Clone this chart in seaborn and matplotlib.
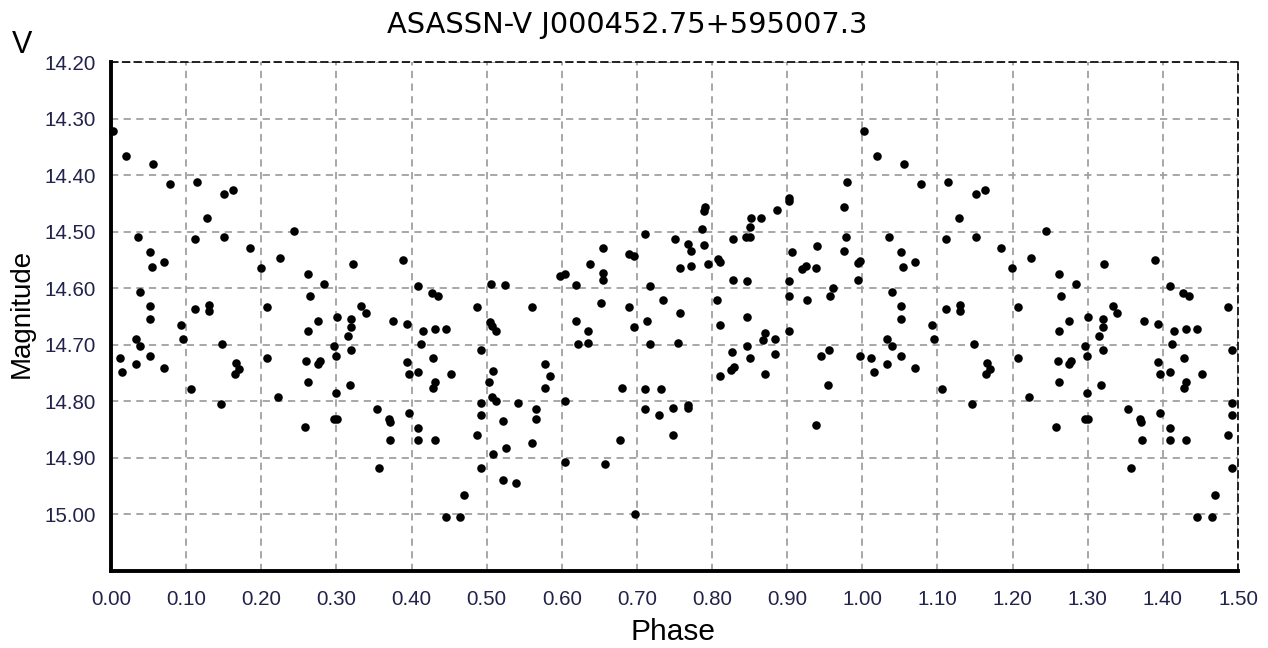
import numpy as np
import pandas as pd
import matplotlib
matplotlib.use("Agg")
import matplotlib.pyplot as plt
import seaborn as sns
from matplotlib.ticker import MultipleLocator, FormatStrFormatter

title = "ASASSN-V J000452.75+595007.3"
band_label = "V"
x_label = "Phase"
y_label = "Magnitude"

# Observed points, one cycle (phase 0..1); the chart shows phase 0..1.5
phase = [
    0.002, 0.020, 0.056, 0.078, 0.114, 0.151, 0.163, 0.128, 0.036, 0.112,
    0.151, 0.052, 0.054, 0.070, 0.039, 0.052, 0.052, 0.112, 0.130, 0.130,
    0.093, 0.096, 0.033, 0.039, 0.148, 0.012, 0.015, 0.033, 0.052, 0.070,
    0.166, 0.170, 0.165, 0.106, 0.146,
    0.244, 0.185, 0.199, 0.225, 0.262, 0.284, 0.265, 0.322, 0.207, 0.275,
    0.301, 0.320, 0.320, 0.315, 0.333, 0.262, 0.207, 0.260, 0.275, 0.278,
    0.297, 0.299, 0.320, 0.262, 0.299, 0.318, 0.222, 0.297, 0.301, 0.258,
    0.389, 0.409, 0.427, 0.435, 0.487, 0.339, 0.375, 0.394, 0.415, 0.431,
    0.446, 0.412, 0.492, 0.394, 0.428, 0.396, 0.409, 0.452, 0.431, 0.428,
    0.492, 0.492, 0.354, 0.370, 0.371, 0.396, 0.409, 0.372, 0.409, 0.431,
    0.487, 0.357, 0.492, 0.470, 0.446, 0.465,
    0.655, 0.637, 0.598, 0.604, 0.655, 0.655, 0.506, 0.524, 0.619, 0.560,
    0.652, 0.504, 0.507, 0.512, 0.619, 0.635, 0.622, 0.635, 0.578, 0.584,
    0.509, 0.503, 0.578, 0.507, 0.512, 0.542, 0.604, 0.565, 0.565, 0.522,
    0.560, 0.526, 0.509, 0.604, 0.657, 0.522, 0.539,
    0.789, 0.791, 0.786, 0.711, 0.751, 0.768, 0.772, 0.789, 0.828, 0.690,
    0.696, 0.757, 0.772, 0.795, 0.808, 0.811, 0.718, 0.828, 0.735, 0.807,
    0.690, 0.757, 0.714, 0.696, 0.811, 0.718, 0.754, 0.826, 0.811, 0.825,
    0.829, 0.680, 0.711, 0.732, 0.711, 0.730, 0.748, 0.768, 0.768, 0.748,
    0.677, 0.697,
    0.980, 0.903, 0.903, 0.976, 0.886, 0.865, 0.852, 0.851, 0.845, 0.851,
    0.978, 0.940, 0.907, 0.976, 0.920, 0.925, 0.938, 0.994, 0.997, 0.994,
    0.846, 0.902, 0.961, 0.902, 0.957, 0.927, 0.846, 0.902, 0.870, 0.868,
    0.884, 0.846, 0.850, 0.884, 0.945, 0.956, 0.997, 0.870, 0.954, 0.938,
]
magnitude = [
    14.322, 14.367, 14.381, 14.416, 14.412, 14.433, 14.426, 14.475, 14.509, 14.513,
    14.510, 14.536, 14.562, 14.553, 14.606, 14.631, 14.655, 14.637, 14.630, 14.641,
    14.665, 14.689, 14.689, 14.702, 14.699, 14.724, 14.748, 14.734, 14.720, 14.741,
    14.733, 14.742, 14.752, 14.779, 14.804,
    14.499, 14.529, 14.565, 14.547, 14.575, 14.592, 14.614, 14.558, 14.634, 14.658,
    14.651, 14.654, 14.669, 14.685, 14.631, 14.675, 14.724, 14.728, 14.734, 14.729,
    14.702, 14.720, 14.710, 14.765, 14.786, 14.772, 14.793, 14.831, 14.831, 14.845,
    14.550, 14.596, 14.609, 14.614, 14.634, 14.644, 14.658, 14.664, 14.676, 14.672,
    14.672, 14.699, 14.710, 14.730, 14.723, 14.751, 14.748, 14.751, 14.766, 14.776,
    14.803, 14.825, 14.813, 14.831, 14.836, 14.820, 14.848, 14.869, 14.869, 14.869,
    14.859, 14.918, 14.918, 14.966, 15.004, 15.004,
    14.529, 14.557, 14.579, 14.575, 14.573, 14.585, 14.592, 14.595, 14.595, 14.634,
    14.626, 14.660, 14.666, 14.675, 14.658, 14.675, 14.699, 14.696, 14.734, 14.755,
    14.747, 14.765, 14.776, 14.792, 14.800, 14.803, 14.799, 14.813, 14.831, 14.834,
    14.873, 14.882, 14.894, 14.907, 14.910, 14.939, 14.944,
    14.463, 14.456, 14.495, 14.505, 14.513, 14.522, 14.534, 14.523, 14.513, 14.539,
    14.543, 14.565, 14.561, 14.557, 14.548, 14.554, 14.596, 14.585, 14.620, 14.620,
    14.634, 14.644, 14.658, 14.668, 14.665, 14.699, 14.696, 14.713, 14.755, 14.745,
    14.739, 14.776, 14.779, 14.779, 14.814, 14.825, 14.811, 14.807, 14.811, 14.859,
    14.869, 15.000,
    14.412, 14.440, 14.446, 14.457, 14.461, 14.475, 14.475, 14.491, 14.509, 14.509,
    14.509, 14.526, 14.536, 14.534, 14.566, 14.561, 14.565, 14.555, 14.551, 14.585,
    14.588, 14.588, 14.599, 14.613, 14.613, 14.620, 14.651, 14.675, 14.679, 14.692,
    14.689, 14.702, 14.724, 14.716, 14.720, 14.710, 14.720, 14.751, 14.772, 14.841,
]

x_ticks = [0.00, 0.10, 0.20, 0.30, 0.40, 0.50, 0.60, 0.70, 0.80, 0.90,
           1.00, 1.10, 1.20, 1.30, 1.40, 1.50]
y_ticks = [14.20, 14.30, 14.40, 14.50, 14.60, 14.70, 14.80, 14.90, 15.00]

one_cycle = pd.DataFrame({"phase": phase, "mag": magnitude})
second = one_cycle[one_cycle["phase"] <= 0.5].copy()
second["phase"] = second["phase"] + 1.0
df = pd.concat([one_cycle, second], ignore_index=True)

sns.set_style("white")
plt.rcParams["font.family"] = ["Liberation Sans", "DejaVu Sans"]

fig = plt.figure(figsize=(12.68, 6.48), dpi=100)
ax = fig.add_axes([111 / 1268, 1 - 571 / 648, (1238 - 111) / 1268, (571 - 62) / 648])

sns.scatterplot(data=df, x="phase", y="mag", ax=ax, color="black", s=38,
                linewidth=0, zorder=3, clip_on=False, legend=False)

ax.set_xlim(0, 1.5)
ax.set_ylim(15.10, 14.20)
ax.set_xticks(x_ticks)
ax.set_yticks(y_ticks)
ax.xaxis.set_major_formatter(FormatStrFormatter("%.2f"))
ax.yaxis.set_major_formatter(FormatStrFormatter("%.2f"))
ax.xaxis.set_minor_locator(MultipleLocator(0.025))
ax.yaxis.set_minor_locator(MultipleLocator(0.025))

ax.grid(True, which="major", color="#a0a0a0", linestyle=(0, (4, 3)), linewidth=1.3, zorder=1)
ax.set_axisbelow(True)

for side in ["left", "bottom"]:
    ax.spines[side].set_linewidth(2.8)
    ax.spines[side].set_color("black")
for side in ["top", "right"]:
    ax.spines[side].set_linewidth(1.2)
    ax.spines[side].set_color("black")
    ax.spines[side].set_linestyle((0, (4, 3)))

tick_color = "#22224a"
ax.tick_params(axis="both", which="major", direction="out", length=8, width=1.3,
               color="#909090", labelsize=14.8, labelcolor=tick_color, pad=3)
ax.tick_params(axis="both", which="minor", direction="out", length=4, width=1.0,
               color="#606060")
ax.tick_params(axis="y", which="major", length=9, pad=2)
ax.tick_params(axis="x", which="major", pad=6)

ax.set_xlabel("")
ax.set_ylabel("")

fig.text(627.5 / 1268, 1 - 33 / 648, title, ha="center", va="baseline",
         fontsize=20.8, family="DejaVu Sans", color="black")
fig.text(12 / 1268, 1 - 53 / 648, band_label, ha="left", va="baseline",
         fontsize=22, color="black")
fig.text(22 / 1268, 1 - 313 / 648, y_label, ha="center", va="center",
         rotation=90, fontsize=20, color="black")
fig.text(673 / 1268, 1 - 640 / 648, x_label, ha="center", va="baseline",
         fontsize=21.5, color="black")

fig.savefig("out.png", dpi=100)
